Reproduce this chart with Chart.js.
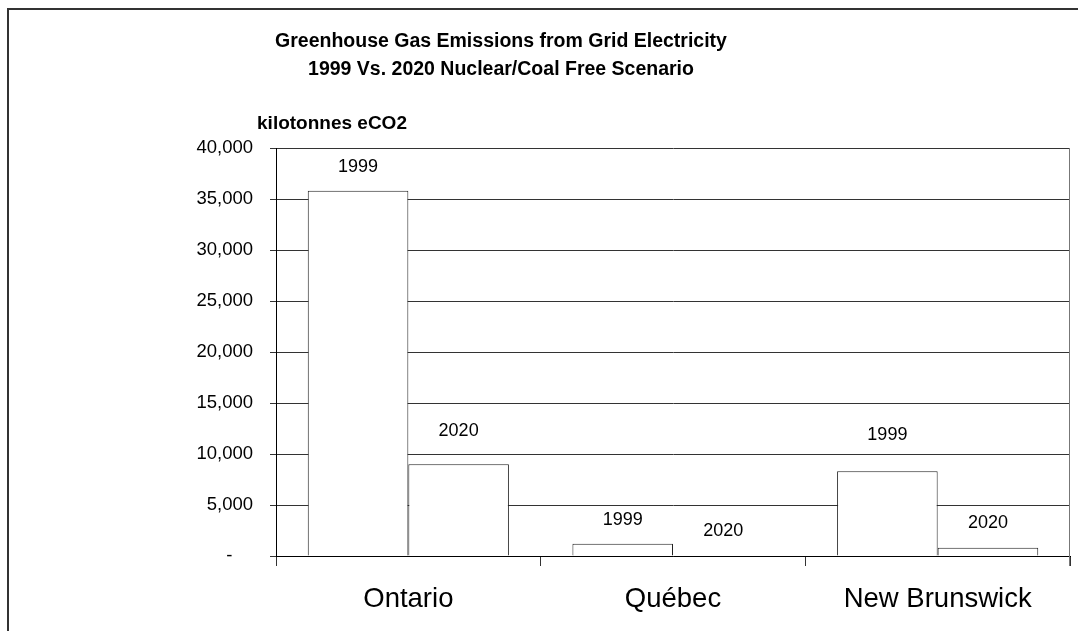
<!DOCTYPE html>
<html>
<head>
<meta charset="utf-8">
<script src="https://cdn.jsdelivr.net/npm/chart.js@4/dist/chart.umd.min.js"></script>
<style>
  html, body { margin: 0; padding: 0; background: #fff; }
  #wrap { width: 1078px; height: 631px; }
</style>
</head>
<body>
<div id="wrap"><canvas id="ghgChart" width="1078" height="631"></canvas></div>
<script>
// data
var provinces = ["Ontario", "Québec", "New Brunswick"];
var seriesNames = ["1999", "2020"];
var emis1999 = [35800, 1200, 8300];
var emis2020 = [9000, 0, 800];
var yTicks = [0, 5000, 10000, 15000, 20000, 25000, 30000, 35000, 40000];

var titleLines = ["Greenhouse Gas Emissions from Grid Electricity", "1999 Vs. 2020 Nuclear/Coal Free Scenario"];
var yTitle = "kilotonnes eCO2";

var FONT = "'Liberation Sans', Arial, sans-serif";

// frame, titles, right border
var decoPlugin = {
    id: 'deco',
    beforeDraw: function (chart) {
        var c = chart.ctx;
        c.save();
        c.strokeStyle = '#333';
        c.lineWidth = 2;
        c.beginPath();
        c.moveTo(8, 631);
        c.lineTo(8, 9);
        c.lineTo(1078, 9);
        c.stroke();
        c.restore();
    },
    afterDraw: function (chart) {
        var c = chart.ctx;
        var a = chart.chartArea;
        c.save();
        c.fillStyle = '#000';
        c.textAlign = 'center';
        c.textBaseline = 'middle';
        c.font = "bold 19.5px " + FONT;
        c.fillText(titleLines[0], 501, 42);
        c.fillText(titleLines[1], 501, 70);
        c.font = "bold 19px " + FONT;
        c.fillText(yTitle, 332, 124);
        // 右の枠線
        c.strokeStyle = '#777';
        c.lineWidth = 1;
        c.beginPath();
        c.moveTo(Math.round(a.right) - 0.5, a.top);
        c.lineTo(Math.round(a.right) - 0.5, a.bottom + 10);
        c.stroke();
        c.restore();
    }
};

// series labels above the bars
var barLabelPlugin = {
    id: 'barLabels',
    afterDatasetsDraw: function (chart, args, opts) {
        var c = chart.ctx;
        c.save();
        c.fillStyle = '#000';
        c.textAlign = 'center';
        c.textBaseline = 'middle';
        c.font = "18px " + FONT;
        chart.data.datasets.forEach(function (ds, di) {
            var meta = chart.getDatasetMeta(di);
            meta.data.forEach(function (bar, i) {
                var lift = opts.lift[di][i];
                c.fillText(ds.label, bar.x, bar.y - lift);
            });
        });
        c.restore();
    }
};

var ctx = document.getElementById("ghgChart");
var ghgChart = new Chart(ctx, {
    type: 'bar',
    data: {
        labels: provinces,
        datasets: [{
            label: seriesNames[0],
            data: emis1999,
            backgroundColor: '#fff',
            borderColor: '#222',
            borderWidth: 1
        }, {
            label: seriesNames[1],
            data: emis2020,
            backgroundColor: '#fff',
            borderColor: '#222',
            borderWidth: 1
        }]
    },
    options: {
        responsive: false,
        animation: false,
        categoryPercentage: 0.76,
        barPercentage: 1.0,
        layout: { padding: { top: 148, right: 8, bottom: 0, left: 0 } },
        plugins: {
            legend: { display: false },
            title: { display: false },
            tooltip: { enabled: false },
            barLabels: { lift: [[24, 24, 36], [33, 25, 25]] }
        },
        scales: {
            x: {
                offset: true,
                grid: { display: true, offset: true, drawOnChartArea: false, drawTicks: true, tickLength: 10, color: '#333' },
                border: { display: true, color: '#000', width: 1 },
                ticks: { color: '#000', font: { family: FONT, size: 27.5 }, padding: 17 },
                afterFit: function (s) { s.height = 75; }
            },
            y: {
                min: 0,
                max: 40000,
                afterBuildTicks: function (s) {
                    s.ticks = yTicks.map(function (v) { return { value: v }; });
                },
                grid: { color: '#333', lineWidth: 1, drawTicks: true, tickLength: 6 },
                border: { display: true, color: '#000', width: 1 },
                ticks: {
                    color: '#000',
                    font: { family: FONT, size: 18.5 },
                    padding: 17,
                    callback: function (v) {
                        return v === 0 ? '-    ' : v.toLocaleString('en-US');
                    }
                },
                afterFit: function (s) { s.width = 276; }
            }
        }
    },
    plugins: [decoPlugin, barLabelPlugin]
});
</script>
</body>
</html>
